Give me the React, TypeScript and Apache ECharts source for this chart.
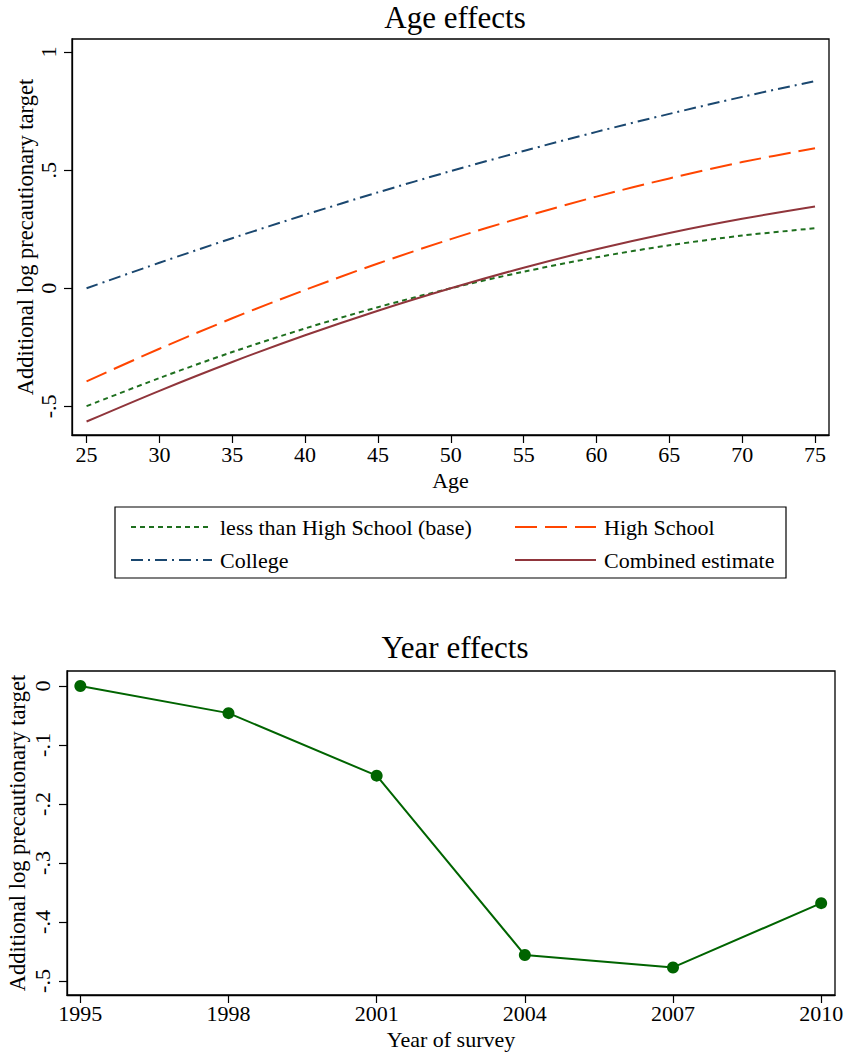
import React, { useEffect, useRef } from "react";
import * as echarts from "echarts";

const FONT = '"Liberation Serif", "DejaVu Serif", serif';

// Age effects (top panel)
const ages = [25, 30, 35, 40, 45, 50, 55, 60, 65, 70, 75];
const lessHS = [-0.499, -0.38, -0.27, -0.17, -0.08, 0.0, 0.07, 0.131, 0.182, 0.223, 0.254];
const highSchool = [-0.394, -0.256, -0.127, -0.007, 0.105, 0.208, 0.302, 0.388, 0.465, 0.534, 0.593];
const college = [0.0, 0.108, 0.212, 0.311, 0.406, 0.496, 0.581, 0.662, 0.738, 0.81, 0.877];
const combined = [-0.564, -0.434, -0.312, -0.199, -0.095, 0.0, 0.087, 0.165, 0.234, 0.294, 0.346];
const ageXTicks = [25, 30, 35, 40, 45, 50, 55, 60, 65, 70, 75];
const ageYTicks = [-0.5, 0, 0.5, 1];

// Year effects (bottom panel)
const years = [1995, 1998, 2001, 2004, 2007, 2010];
const yearEffects = [0, -0.046, -0.152, -0.456, -0.477, -0.368];
const yearYTicks = [-0.5, -0.4, -0.3, -0.2, -0.1, 0];

const seriesNames = {
  lessHS: "less than High School (base)",
  hs: "High School",
  college: "College",
  combined: "Combined estimate",
};

function fmtY(v: number): string {
  if (Math.abs(v) < 1e-9) return "0";
  const s = String(Math.round(Math.abs(v) * 10) / 10).replace(/^0/, "");
  return (v < 0 ? "-" : "") + s;
}

const txt = { color: "#000", fontFamily: FONT };

export default function App() {
  const ref = useRef<HTMLDivElement>(null);
  useEffect(() => {
    if (!ref.current) return;
    const chart = echarts.init(ref.current, undefined, { renderer: "svg" });
    const pair = (xs: number[], ys: number[]) => xs.map((x, i) => [x, ys[i]]);
    const axisLine = { show: true, onZero: false, lineStyle: { color: "#000", width: 1.3 } };
    const axisTick = (vals: number[]) => ({
      show: true,
      length: 8,
      lineStyle: { color: "#000", width: 1.2 },
      customValues: vals,
    });
    const legendBase = {
      orient: "vertical" as const,
      itemWidth: 81,
      itemHeight: 20,
      itemGap: 11,
      textStyle: { ...txt, fontSize: 22, padding: [0, 0, 0, 3] },
      itemStyle: { color: "transparent", borderColor: "transparent", borderWidth: 0, opacity: 0 },
      selectedMode: false,
    };
    chart.setOption({
      animation: false,
      backgroundColor: "#fff",
      title: [
        {
          text: "Age effects",
          left: 450,
          top: -3,
          textAlign: "center",
          textStyle: { ...txt, fontSize: 31, fontWeight: "normal" },
        },
        {
          text: "Year effects",
          left: 450,
          top: 627,
          textAlign: "center",
          textStyle: { ...txt, fontSize: 31, fontWeight: "normal" },
        },
      ],
      legend: [
        { ...legendBase, left: 125, top: 511, data: [seriesNames.lessHS, seriesNames.college] },
        { ...legendBase, left: 509, top: 511, data: [seriesNames.hs, seriesNames.combined] },
      ],
      graphic: [
        {
          type: "rect",
          shape: { x: 115, y: 507, width: 671, height: 71 },
          style: { fill: "none", stroke: "#000", lineWidth: 1.2 },
          silent: true,
        },
      ],
      grid: [
        { left: 72, top: 39, width: 757, height: 396, show: true, borderColor: "#000", borderWidth: 1.3, backgroundColor: "#fff", containLabel: false, outerBoundsMode: "none" },
        { left: 67, top: 671, width: 768, height: 324, show: true, borderColor: "#000", borderWidth: 1.3, backgroundColor: "#fff", containLabel: false, outerBoundsMode: "none" },
      ],
      xAxis: [
        {
          type: "value",
          gridIndex: 0,
          min: 24,
          max: 75.96,
          name: "Age",
          nameLocation: "middle",
          nameGap: 34,
          nameMoveOverlap: false,
          nameTextStyle: { ...txt, fontSize: 22 },
          axisLine,
          axisTick: axisTick(ageXTicks),
          axisLabel: { ...txt, fontSize: 22, margin: 8, customValues: ageXTicks, formatter: (v: number) => String(v) },
          splitLine: { show: false },
        },
        {
          type: "value",
          gridIndex: 1,
          min: 1994.73,
          max: 2010.28,
          name: "Year of survey",
          nameLocation: "middle",
          nameGap: 33,
          nameMoveOverlap: false,
          nameTextStyle: { ...txt, fontSize: 22 },
          axisLine,
          axisTick: axisTick(years),
          axisLabel: { ...txt, fontSize: 22, margin: 7, customValues: years, formatter: (v: number) => String(v) },
          splitLine: { show: false },
        },
      ],
      yAxis: [
        {
          type: "value",
          gridIndex: 0,
          min: -0.621,
          max: 1.055,
          name: "Additional log precautionary target",
          nameLocation: "middle",
          nameGap: 35,
          nameMoveOverlap: false,
          nameTextStyle: { ...txt, fontSize: 22.5 },
          axisLine,
          axisTick: axisTick(ageYTicks),
          axisLabel: { ...txt, fontSize: 22, margin: 13, rotate: 90, customValues: ageYTicks, formatter: fmtY },
          splitLine: { show: false },
        },
        {
          type: "value",
          gridIndex: 1,
          min: -0.5237,
          max: 0.0254,
          name: "Additional log precautionary target",
          nameLocation: "middle",
          nameGap: 38,
          nameMoveOverlap: false,
          nameTextStyle: { ...txt, fontSize: 22.5 },
          axisLine,
          axisTick: axisTick(yearYTicks),
          axisLabel: { ...txt, fontSize: 22, margin: 14, rotate: 90, customValues: yearYTicks, formatter: fmtY },
          splitLine: { show: false },
        },
      ],
      series: [
        {
          type: "line",
          name: seriesNames.lessHS,
          xAxisIndex: 0,
          yAxisIndex: 0,
          data: pair(ages, lessHS),
          smooth: 0.3,
          symbol: "none",
          lineStyle: { color: "#1e6f1e", width: 2, type: [5, 4] },
          itemStyle: { color: "#1e6f1e" },
        },
        {
          type: "line",
          name: seriesNames.hs,
          xAxisIndex: 0,
          yAxisIndex: 0,
          data: pair(ages, highSchool),
          smooth: 0.3,
          symbol: "none",
          lineStyle: { color: "#ff4500", width: 2, type: [22, 8] },
          itemStyle: { color: "#ff4500" },
        },
        {
          type: "line",
          name: seriesNames.college,
          xAxisIndex: 0,
          yAxisIndex: 0,
          data: pair(ages, college),
          smooth: 0.3,
          symbol: "none",
          lineStyle: { color: "#1a476f", width: 2, type: [12, 5, 2, 5] },
          itemStyle: { color: "#1a476f" },
        },
        {
          type: "line",
          name: seriesNames.combined,
          xAxisIndex: 0,
          yAxisIndex: 0,
          data: pair(ages, combined),
          smooth: 0.3,
          symbol: "none",
          lineStyle: { color: "#90353b", width: 2, type: "solid" },
          itemStyle: { color: "#90353b" },
        },
        {
          type: "line",
          name: "Year effects",
          xAxisIndex: 1,
          yAxisIndex: 1,
          data: pair(years, yearEffects),
          symbol: "circle",
          symbolSize: 12,
          lineStyle: { color: "#006400", width: 2 },
          itemStyle: { color: "#006400" },
        },
      ],
    });
    return () => chart.dispose();
  }, []);
  return (
    <div
      ref={ref}
      style={{ position: "absolute", left: 0, top: 0, width: 845, height: 1055, background: "#fff" }}
    />
  );
}
